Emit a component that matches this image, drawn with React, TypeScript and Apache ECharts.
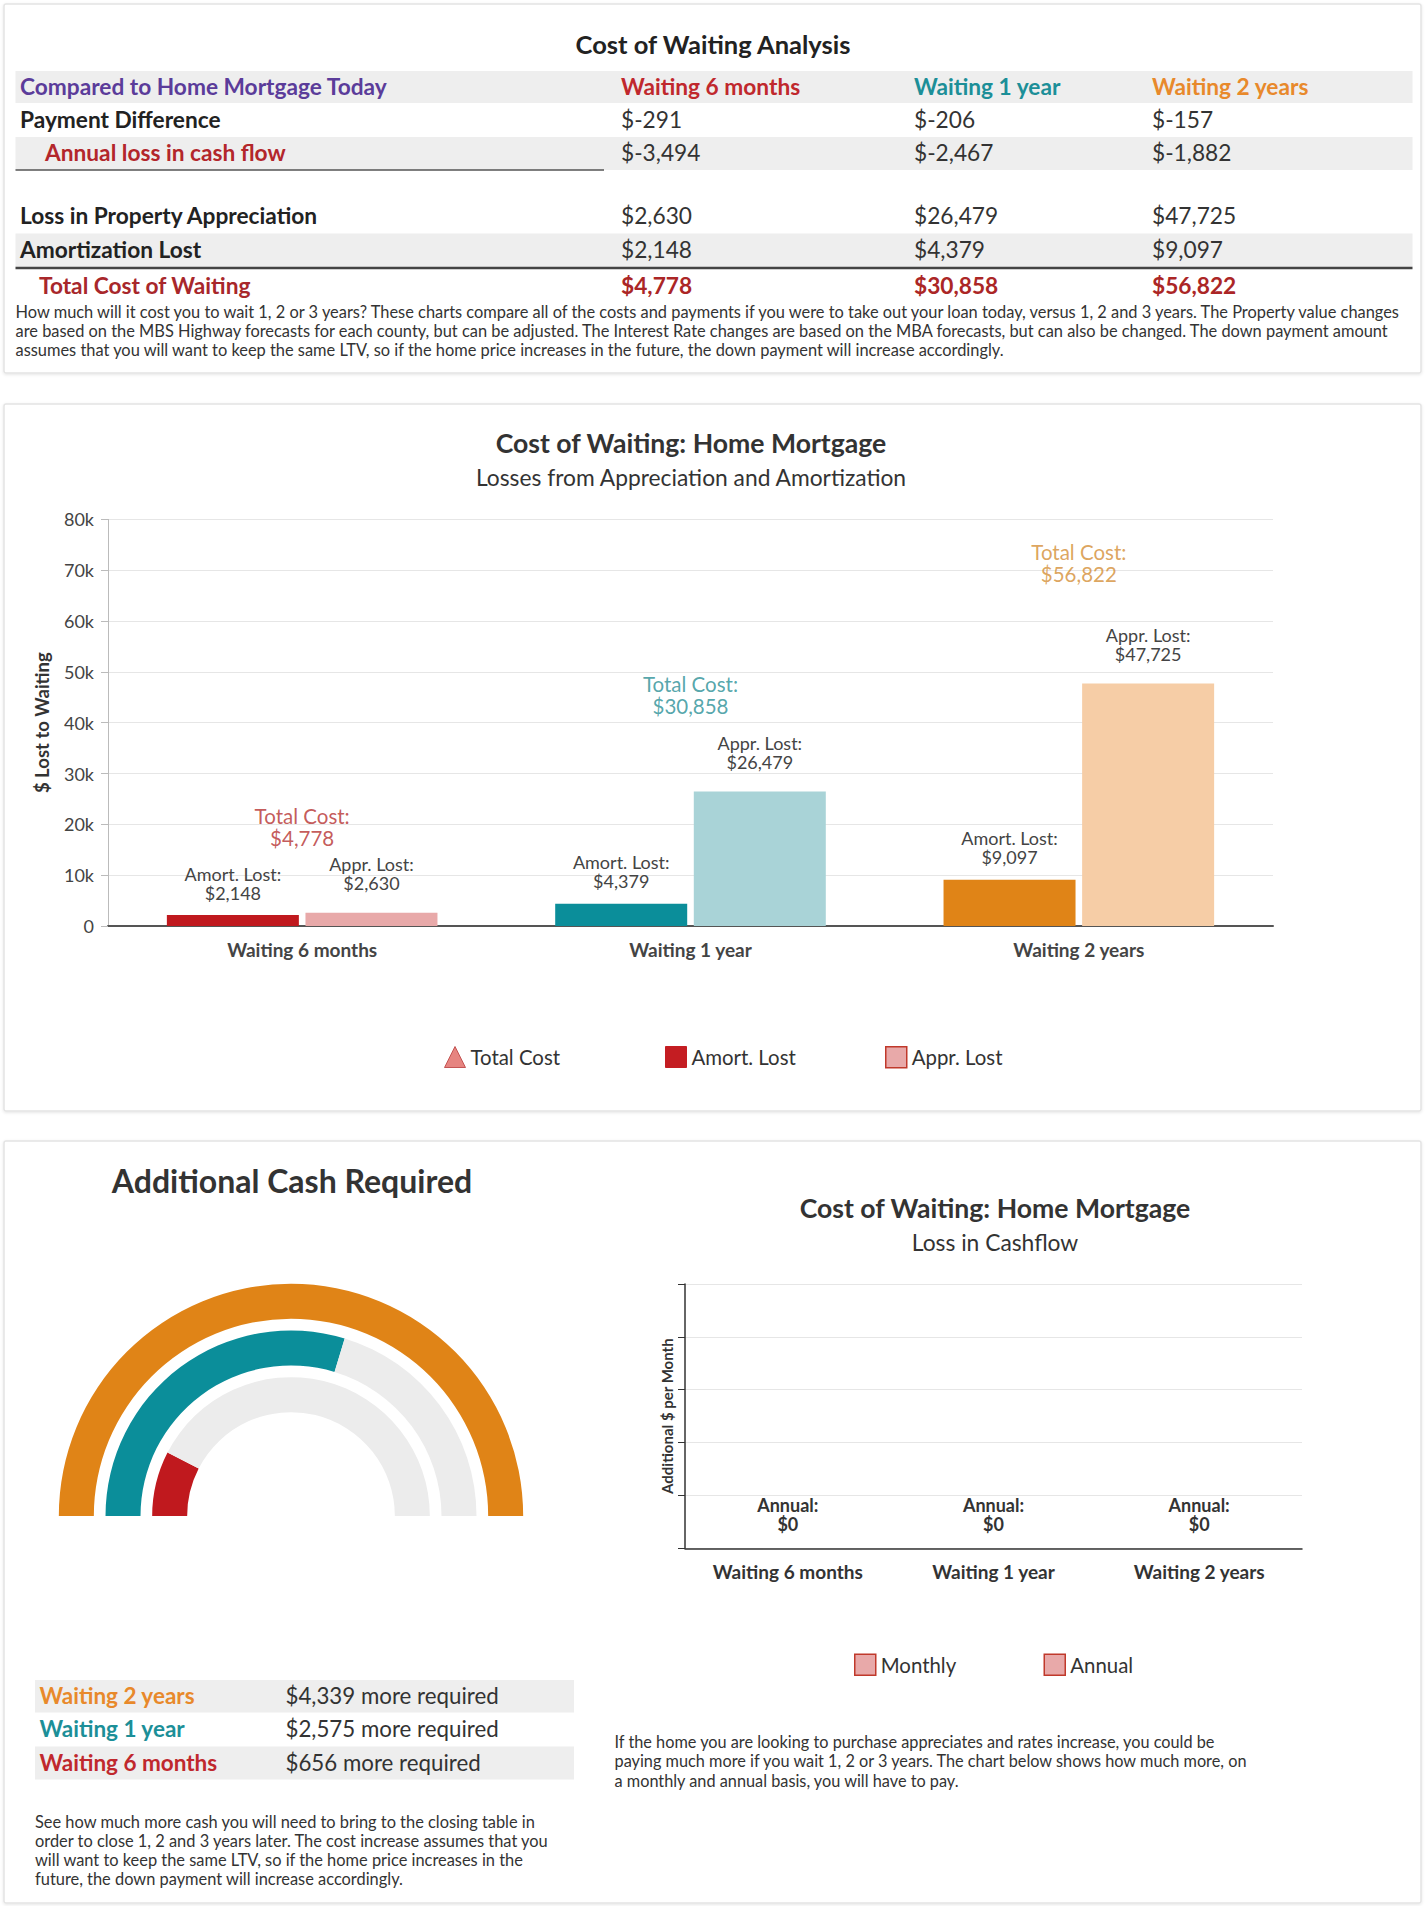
import React, { useEffect, useRef } from "react";
import * as echarts from "echarts";

// ---------- data ----------
const categories = ["Waiting 6 months", "Waiting 1 year", "Waiting 2 years"];
const paymentDifference = [-291, -206, -157];
const annualCashFlowLoss = [-3494, -2467, -1882];
const appreciationLost = [2630, 26479, 47725];
const amortizationLost = [2148, 4379, 9097];
const totalCostOfWaiting = [4778, 30858, 56822];
const additionalCash = [656, 2575, 4339];
const monthlyCashflow = [0, 0, 0];
const annualCashflow = [0, 0, 0];
const lossAxisMin = 0;
const lossAxisMax = 80000;
const lossAxisInterval = 10000;
const cashflowAxisMin = 0;
const cashflowAxisMax = 5;
const cashflowAxisInterval = 1;

const introLines = [
  "How much will it cost you to wait 1, 2 or 3 years? These charts compare all of the costs and payments if you were to take out your loan today, versus 1, 2 and 3 years. The Property value changes",
  "are based on the MBS Highway forecasts for each county, but can be adjusted. The Interest Rate changes are based on the MBA forecasts, but can also be changed. The down payment amount",
  "assumes that you will want to keep the same LTV, so if the home price increases in the future, the down payment will increase accordingly.",
];
const cashLines = [
  "See how much more cash you will need to bring to the closing table in",
  "order to close 1, 2 and 3 years later. The cost increase assumes that you",
  "will want to keep the same LTV, so if the home price increases in the",
  "future, the down payment will increase accordingly.",
];
const cashflowLines = [
  "If the home you are looking to purchase appreciates and rates increase, you could be",
  "paying much more if you wait 1, 2 or 3 years. The chart below shows how much more, on",
  "a monthly and annual basis, you will have to pay.",
];

// ---------- styles ----------
const FONT = "Lato, 'Noto Sans', sans-serif";
const strongColors = ["#c0191e", "#0b8e9a", "#e08417"];
const lightColors = ["#e8a9a9", "#a9d3d7", "#f6cda6"];
const totalColors = ["#b5302f", "#2a8f96", "#d48e35"];
const headerColors = ["#c0282d", "#1c8f98", "#e8892b"];

const money = (v: number) => "$" + v.toLocaleString("en-US");
const DY = -2.5;

function txt(
  text: string,
  x: number,
  y: number,
  size: number,
  color: string,
  weight = "normal",
  align = "left"
) {
  return {
    type: "text",
    x,
    y: y + DY,
    z: 10,
    silent: true,
    style: {
      text,
      fill: color,
      font: `${weight} ${size}px ${FONT}`,
      textAlign: align,
      textVerticalAlign: "middle",
    },
  };
}
function rect(x: number, y: number, w: number, h: number, fill: string, z = 2) {
  return { type: "rect", z, silent: true, shape: { x, y, width: w, height: h }, style: { fill } };
}
function panel(x: number, y: number, w: number, h: number) {
  return {
    type: "rect",
    z: 0,
    silent: true,
    shape: { x, y, width: w, height: h, r: 2 },
    style: {
      fill: "#ffffff",
      stroke: "#e4e4e4",
      lineWidth: 1.5,
      shadowBlur: 3,
      shadowOffsetY: 1,
      shadowColor: "rgba(0,0,0,0.10)",
    },
  };
}
function hline(x1: number, x2: number, y: number, color: string, width: number) {
  return {
    type: "line",
    z: 3,
    silent: true,
    shape: { x1, y1: y, x2, y2: y },
    style: { stroke: color, lineWidth: width },
  };
}

function buildGraphics() {
  const g: any[] = [];
  g.push(panel(4, 4, 1417, 369));
  g.push(panel(4, 404, 1417, 707));
  g.push(panel(4, 1141, 1417, 762));

  // ----- analysis table -----
  const colX = [621, 914, 1152];
  const TS = 22.7;
  g.push(txt("Cost of Waiting Analysis", 713, 46, 25.5, "#222", "bold", "center"));
  g.push(rect(15.5, 71, 1397, 32, "#eeeeee"));
  g.push(rect(15.5, 137, 1397, 33, "#eeeeee"));
  g.push(hline(15.5, 604, 170, "#555", 1.5));
  g.push(rect(15.5, 233.5, 1397, 33.5, "#eeeeee"));
  g.push(hline(15.5, 1412.5, 268, "#444", 2.5));

  g.push(txt("Compared to Home Mortgage Today", 20, 89, TS, "#5b3c9a", "bold"));
  categories.forEach((c, i) => g.push(txt(c, colX[i], 89, TS, headerColors[i], "bold")));

  g.push(txt("Payment Difference", 20, 122, TS, "#222", "bold"));
  paymentDifference.forEach((v, i) => g.push(txt(money(v), colX[i], 122, TS, "#333")));

  g.push(txt("Annual loss in cash flow", 45, 155, TS, "#b3262b", "bold"));
  annualCashFlowLoss.forEach((v, i) => g.push(txt(money(v), colX[i], 155, TS, "#333")));

  g.push(txt("Loss in Property Appreciation", 20, 218, TS, "#222", "bold"));
  appreciationLost.forEach((v, i) => g.push(txt(money(v), colX[i], 218, TS, "#333")));

  g.push(txt("Amortization Lost", 20, 252, TS, "#222", "bold"));
  amortizationLost.forEach((v, i) => g.push(txt(money(v), colX[i], 252, TS, "#333")));

  g.push(txt("Total Cost of Waiting", 39, 288, TS, "#a8272b", "bold"));
  totalCostOfWaiting.forEach((v, i) => g.push(txt(money(v), colX[i], 288, TS, "#ab2626", "bold")));

  introLines.forEach((l, i) => g.push(txt(l, 15.5, 313.5 + i * 19, 16.4, "#333")));

  // ----- chart 1 titles -----
  g.push(txt("Cost of Waiting: Home Mortgage", 691, 445, 26.6, "#333", "bold", "center"));
  g.push(txt("Losses from Appreciation and Amortization", 691, 479.5, 22.8, "#333", "normal", "center"));

  // ----- additional cash -----
  g.push(txt("Additional Cash Required", 292, 1183, 32, "#333", "bold", "center"));
  g.push(rect(35, 1680, 539, 32.5, "#eeeeee"));
  g.push(rect(35, 1746.5, 539, 33, "#eeeeee"));
  const rowY = [1698, 1731, 1764.5];
  [2, 1, 0].forEach((ci, r) => {
    g.push(txt(categories[ci], 39.5, rowY[r], 22.5, headerColors[ci], "bold"));
    g.push(txt(money(additionalCash[ci]) + " more required", 285.5, rowY[r], 22.3, "#333"));
  });
  cashLines.forEach((l, i) => g.push(txt(l, 35, 1824 + i * 19, 16.4, "#333")));

  // ----- cashflow chart titles -----
  g.push(txt("Cost of Waiting: Home Mortgage", 995, 1210, 26.6, "#333", "bold", "center"));
  g.push(txt("Loss in Cashflow", 995, 1244, 22.8, "#333", "normal", "center"));
  cashflowLines.forEach((l, i) => g.push(txt(l, 614.5, 1743.5 + i * 19.6, 16.3, "#333")));
  return g;
}

const legendText = { fontFamily: FONT, fontSize: 20.4, color: "#333" };
function legendOne(name: string, left: number, top: number, icon: string, itemStyle: any) {
  return {
    left,
    top,
    padding: 0,
    itemWidth: 21,
    itemHeight: 21,
    selectedMode: false,
    textStyle: legendText,
    data: [{ name, icon, itemStyle }],
  };
}

export default function App() {
  const ref = useRef<HTMLDivElement>(null);
  useEffect(() => {
    if (!ref.current) return;
    const chart = echarts.init(ref.current, undefined, { renderer: "svg" });
    const cashMax = Math.max(...additionalCash);
    const option: any = {
      animation: false,
      backgroundColor: "#ffffff",
      textStyle: { fontFamily: FONT },
      graphic: { elements: buildGraphics() },
      legend: [
        legendOne("Total Cost", 444, 1046, "triangle", { color: "#e06560", borderColor: "#b83a3a", borderWidth: 1 }),
        legendOne("Amort. Lost", 665, 1046, "rect", { color: "#c41d22", borderColor: "#c41d22", borderWidth: 1 }),
        legendOne("Appr. Lost", 885, 1046, "rect", { color: "#e8a9a9", borderColor: "#c0392b", borderWidth: 1.5 }),
        legendOne("Monthly", 854, 1653.5, "rect", { color: "#e8a9a9", borderColor: "#c0392b", borderWidth: 1.5 }),
        legendOne("Annual", 1043.5, 1653.5, "rect", { color: "#e8a9a9", borderColor: "#c0392b", borderWidth: 1.5 }),
      ],
      grid: [
        { left: 108, top: 519.4, width: 1165, height: 406.6 },
        { left: 685, top: 1284, width: 617, height: 264.3 },
      ],
      xAxis: [
        {
          gridIndex: 0,
          type: "category",
          data: categories,
          axisLine: { lineStyle: { color: "#555", width: 2 } },
          axisTick: { alignWithLabel: true, length: 6, lineStyle: { color: "#555" } },
          axisLabel: { margin: 14, fontFamily: FONT, fontSize: 19, fontWeight: "bold", color: "#444" },
        },
        {
          gridIndex: 1,
          type: "category",
          data: categories,
          axisLine: { lineStyle: { color: "#333", width: 1.5 } },
          axisTick: { alignWithLabel: true, length: 6, lineStyle: { color: "#333" } },
          axisLabel: { margin: 14, fontFamily: FONT, fontSize: 19, fontWeight: "bold", color: "#333" },
        },
      ],
      yAxis: [
        {
          gridIndex: 0,
          type: "value",
          min: lossAxisMin,
          max: lossAxisMax,
          interval: lossAxisInterval,
          name: "$ Lost to Waiting",
          nameLocation: "middle",
          nameGap: 57,
          nameTextStyle: { fontFamily: FONT, fontSize: 18.5, fontWeight: "bold", color: "#333" },
          axisLine: { show: true, lineStyle: { color: "#bbb", width: 1 } },
          axisTick: { show: true, length: 7, lineStyle: { color: "#bbb" } },
          axisLabel: {
            margin: 14,
            fontFamily: FONT,
            fontSize: 18,
            color: "#444",
            formatter: (v: number) => (v === 0 ? "0" : v / 1000 + "k"),
          },
          splitLine: { lineStyle: { color: "#e6e6e6" } },
        },
        {
          gridIndex: 1,
          type: "value",
          min: cashflowAxisMin,
          max: cashflowAxisMax,
          interval: cashflowAxisInterval,
          name: "Additional $ per Month",
          nameLocation: "middle",
          nameGap: 11,
          nameTextStyle: { fontFamily: FONT, fontSize: 15, fontWeight: "bold", color: "#333" },
          axisLine: { show: true, lineStyle: { color: "#333", width: 1.5 } },
          axisTick: { show: true, length: 7, lineStyle: { color: "#333" } },
          axisLabel: { show: false },
          splitLine: { lineStyle: { color: "#e6e6e6" } },
        },
      ],
      polar: { center: [291, 1516], radius: [98, 238] },
      angleAxis: {
        type: "value",
        min: 0,
        max: cashMax * 2,
        startAngle: 180,
        clockwise: true,
        axisLine: { show: false },
        axisTick: { show: false },
        axisLabel: { show: false },
        splitLine: { show: false },
      },
      radiusAxis: {
        type: "category",
        data: categories,
        axisLine: { show: false },
        axisTick: { show: false },
        axisLabel: { show: false },
        splitLine: { show: false },
      },
      series: [
        {
          name: "Amort. Lost",
          type: "bar",
          xAxisIndex: 0,
          yAxisIndex: 0,
          barWidth: 132,
          barGap: "5%",
          data: amortizationLost.map((v, i) => ({ value: v, itemStyle: { color: strongColors[i] } })),
          label: {
            show: true,
            position: "top",
            distance: 13,
            formatter: (p: any) => "Amort. Lost:\n" + money(p.value),
            fontFamily: FONT,
            fontSize: 18,
            lineHeight: 19,
            color: "#444",
          },
        },
        {
          name: "Appr. Lost",
          type: "bar",
          xAxisIndex: 0,
          yAxisIndex: 0,
          barWidth: 132,
          barGap: "5%",
          data: appreciationLost.map((v, i) => ({ value: v, itemStyle: { color: lightColors[i] } })),
          label: {
            show: true,
            position: "top",
            distance: 20,
            formatter: (p: any) => "Appr. Lost:\n" + money(p.value),
            fontFamily: FONT,
            fontSize: 18,
            lineHeight: 19,
            color: "#444",
          },
        },
        {
          name: "Total Cost",
          type: "scatter",
          xAxisIndex: 0,
          yAxisIndex: 0,
          symbol: "triangle",
          symbolSize: 1,
          itemStyle: { color: "rgba(0,0,0,0)" },
          z: 5,
          data: totalCostOfWaiting.map((v, i) => ({ value: v, label: { color: totalColors[i] } })),
          label: {
            show: true,
            position: "top",
            distance: 52,
            formatter: (p: any) => "Total Cost:\n" + money(p.value),
            fontFamily: FONT,
            fontSize: 20.5,
            lineHeight: 22,
          },
        },
        {
          name: "Monthly",
          type: "bar",
          xAxisIndex: 1,
          yAxisIndex: 1,
          barGap: "-100%",
          barWidth: 60,
          itemStyle: { color: "#e8a9a9" },
          data: monthlyCashflow,
        },
        {
          name: "Annual",
          type: "bar",
          xAxisIndex: 1,
          yAxisIndex: 1,
          barGap: "-100%",
          barWidth: 60,
          itemStyle: { color: "#e8a9a9" },
          data: annualCashflow,
          label: {
            show: true,
            position: "top",
            distance: 15,
            formatter: (p: any) => "Annual:\n" + money(p.value),
            fontFamily: FONT,
            fontSize: 18,
            fontWeight: "bold",
            lineHeight: 19,
            color: "#333",
          },
        },
        {
          type: "bar",
          coordinateSystem: "polar",
          stack: "cash",
          barWidth: 35,
          silent: true,
          data: additionalCash.map((v, i) => ({ value: v, itemStyle: { color: strongColors[i] } })),
        },
        {
          type: "bar",
          coordinateSystem: "polar",
          stack: "cash",
          barWidth: 35,
          silent: true,
          itemStyle: { color: "#ececec" },
          data: additionalCash.map((v) => cashMax - v),
        },
      ],
    };
    chart.setOption(option);
    return () => chart.dispose();
  }, []);
  return (
    <div
      ref={ref}
      style={{ position: "absolute", left: 0, top: 0, width: 1426, height: 1906, background: "#fff" }}
    />
  );
}
